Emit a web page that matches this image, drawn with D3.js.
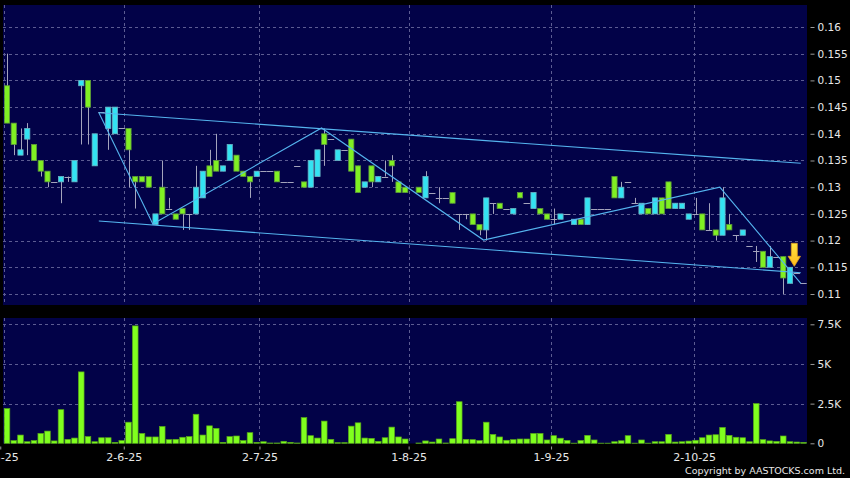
<!DOCTYPE html>
<html>
<head>
<meta charset="utf-8">
<script src="https://cdn.jsdelivr.net/npm/d3@7"></script>
<style>
  html, body { margin: 0; padding: 0; background: #000; }
  svg { display: block; }
  text { font-family: "DejaVu Sans", sans-serif; }
</style>
</head>
<body>
<div id="chart"></div>
<script>
// daily prices, index 0 = first trading day shown (null = no trade)
const openP = [
  .149,.142,.136,.139,.138,.135,.133,.131,.131,.132,
  .131,.149,.150,.134,.144,.141,.140,.141,.141,.132,
  .132,.132,.123,.130,.126,.125,.126,.125,.125,.128,
  .134,.135,.133,.135,.136,.133,.132,.132,.133,.133,
  .133,.131,.131,.134,.131,.130,.132,.140,.139,.135,
  .137,.139,.134,.130,.134,.131,.132,.135,.131,.130,
  null,.130,.128,.129,.128,.128,.129,.125,.125,.125,
  .123,.122,.127,.127,.126,.125,.129,.127,.126,.126,
  .125,.124,.124,.125,.123,.124,.123,.126,.126,.126,
  .132,.128,.131,.127,.125,.126,.125,.128,.131,.126,
  .126,.124,.125,.125,.122,.122,.121,.123,.121,.121,
  .119,.118,.118,.115,.117,.117,.112,.114,.112
];
const closeP = [
  .142,.138,.137,.141,.135,.133,.131,.131,.132,.132,
  .135,.150,.145,.140,.144,.145,.145,.141,.137,.131,
  .131,.130,.125,.125,.126,.124,.125,.125,.130,.133,
  .132,.133,.134,.138,.133,.132,.131,.133,.133,.133,
  .131,.131,.131,.134,.130,.135,.137,.138,.139,.137,
  .137,.133,.129,.131,.131,.132,.132,.134,.129,.129,
  null,.129,.132,.129,.128,.128,.127,.125,.125,.123,
  .122,.128,.127,.126,.126,.126,.128,.127,.129,.125,
  .124,.124,.125,.125,.124,.123,.128,.126,.126,.126,
  .128,.130,.131,.127,.127,.125,.128,.125,.126,.127,
  .127,.125,.125,.122,.122,.121,.128,.122,.121,.122,
  .119,.118,.115,.117,.117,.113,.115,.114,.112
];
const highP = [
  .155,.142,.141,.142,.138,.135,.133,.131,.132,.132,
  .135,.150,.150,.140,.144,.145,.145,.141,.141,.132,
  .132,.132,.125,.135,.128,.125,.126,.125,.134,.133,
  .137,.140,.134,.138,.136,.133,.132,.133,.133,.133,
  .133,.131,.131,.134,.131,.135,.137,.141,.139,.137,
  .137,.139,.134,.131,.134,.132,.135,.136,.131,.130,
  null,.130,.133,.129,.130,.128,.129,.125,.125,.125,
  .123,.128,.127,.127,.126,.126,.129,.127,.129,.126,
  .125,.126,.125,.125,.124,.124,.128,.126,.126,.126,
  .132,.131,.131,.128,.127,.126,.128,.128,.131,.127,
  .127,.125,.128,.125,.127,.122,.130,.125,.121,.122,
  .119,.119,.118,.119,.117,.117,.115,.114,.112
];
const lowP = [
  .142,.136,.136,.136,.135,.132,.130,.131,.127,.131,
  .131,.138,.138,.134,.144,.137,.140,.141,.130,.126,
  .131,.130,.123,.125,.126,.124,.122,.122,.125,.128,
  .132,.133,.133,.135,.133,.132,.128,.132,.133,.133,
  .131,.131,.131,.134,.130,.130,.132,.134,.139,.135,
  .137,.133,.129,.130,.130,.131,.132,.131,.129,.129,
  null,.129,.128,.129,.127,.128,.127,.122,.124,.123,
  .121,.120,.125,.126,.126,.125,.128,.127,.126,.125,
  .124,.123,.124,.125,.123,.123,.123,.126,.126,.126,
  .128,.128,.131,.127,.125,.125,.125,.125,.126,.126,
  .126,.124,.125,.122,.122,.120,.121,.122,.120,.121,
  .119,.116,.115,.115,.117,.110,.112,.114,.112
];
const volume = [
  2190,170,520,100,170,620,770,150,2120,250,
  330,4500,420,100,350,350,60,170,1330,7400,
  620,400,400,1060,230,250,380,420,1830,520,
  1100,940,60,420,460,170,670,60,100,20,
  20,125,60,20,1620,480,330,1400,250,40,
  40,1080,1290,330,310,125,350,1020,400,270,
  0,20,150,80,270,20,290,2620,250,230,
  170,1330,560,400,190,230,270,270,620,620,
  210,480,320,180,10,180,500,210,10,10,
  100,160,480,10,210,10,100,100,560,80,
  100,140,190,350,520,540,1000,500,380,350,
  100,2500,230,150,120,460,100,80,60
];

// x-axis labels and where they sit (in day index units)
const dateLabels = ["2-5-25", "2-6-25", "2-7-25", "1-8-25", "1-9-25", "2-10-25"];
const dateTickIdx = [-1, 17.3, 37.4, 59.5, 80.6, 101.8];
const priceTicks = [0.11, 0.115, 0.12, 0.125, 0.13, 0.135, 0.14, 0.145, 0.15, 0.155, 0.16];
const volTicks = [0, 2500, 5000, 7500];

// trend lines drawn on the chart: [day index, price]
const upperChannel = [[14, 0.14395], [118, 0.13448]];
const lowerChannel = [[14, 0.12367], [118, 0.11399]];
const zigzag = [[14, 0.1440], [22, 0.1231], [47, 0.1411], [71, 0.1201], [106, 0.1300], [118, 0.1120]];
const lineShift = -0.4; // lines sit a little left of the candle centres

const signalIdx = 116;

const W = 850, H = 478;
const plotL = 3, plotR = 807;
const priceTop = 5, priceBot = 305;
const volTop = 318, volBot = 443.5;

const C = {
  bg: "#000000",
  panel: "#020248",
  grid: "#5c5c92",
  up: "#33e3f2",
  upEdge: "#6ab3c4",
  down: "#80f023",
  downEdge: "#5c9a3a",
  wick: "#a4a4bc",
  trend: "#55b4ee",
  text: "#e8e8e8"
};

const days = d3.range(openP.length).map(i => ({
  i, o: openP[i], c: closeP[i], h: highP[i], l: lowP[i], v: volume[i]
}));
const traded = days.filter(d => d.o != null);

const x = d3.scaleLinear().domain([0, 118]).range([7, 803.5]);
const y = d3.scaleLinear().domain([0.11, 0.16]).range([294, 27]);
const yv = d3.scaleLinear().domain([0, 7500]).range([443.3, 324.3]);

const svg = d3.select("#chart").append("svg")
  .attr("width", W)
  .attr("height", H);

svg.append("rect").attr("width", W).attr("height", H).attr("fill", C.bg);

const defs = svg.append("defs");
defs.append("clipPath").attr("id", "clipPrice")
  .append("rect").attr("x", plotL).attr("y", priceTop)
  .attr("width", plotR - plotL).attr("height", priceBot - priceTop);

const arrowGrad = defs.append("linearGradient").attr("id", "arrowGrad")
  .attr("x1", 0).attr("y1", 0).attr("x2", 0).attr("y2", 1);
arrowGrad.append("stop").attr("offset", "0%").attr("stop-color", "#ffe640");
arrowGrad.append("stop").attr("offset", "100%").attr("stop-color", "#ffb81c");

// panels
svg.append("rect")
  .attr("x", plotL).attr("y", priceTop)
  .attr("width", plotR - plotL).attr("height", priceBot - priceTop)
  .attr("fill", C.panel);
svg.append("rect")
  .attr("x", plotL).attr("y", volTop)
  .attr("width", plotR - plotL).attr("height", volBot - volTop)
  .attr("fill", C.panel);

// grid
const grid = svg.append("g")
  .attr("stroke", C.grid)
  .attr("stroke-width", 1)
  .attr("stroke-dasharray", "3,3")
  .attr("shape-rendering", "crispEdges");

grid.selectAll("line.hp").data(priceTicks).join("line")
  .attr("class", "hp")
  .attr("x1", plotL).attr("x2", plotR)
  .attr("y1", d => Math.round(y(d)) + 0.5).attr("y2", d => Math.round(y(d)) + 0.5);
grid.selectAll("line.hv").data(volTicks.filter(d => d > 0)).join("line")
  .attr("class", "hv")
  .attr("x1", plotL).attr("x2", plotR)
  .attr("y1", d => Math.round(yv(d)) + 0.5).attr("y2", d => Math.round(yv(d)) + 0.5);
grid.selectAll("line.vp").data(dateTickIdx).join("line")
  .attr("class", "vp")
  .attr("x1", d => Math.max(Math.round(x(d)), plotL + 1) + 0.5)
  .attr("x2", d => Math.max(Math.round(x(d)), plotL + 1) + 0.5)
  .attr("y1", priceTop).attr("y2", priceBot);
grid.selectAll("line.vv").data(dateTickIdx).join("line")
  .attr("class", "vv")
  .attr("x1", d => Math.max(Math.round(x(d)), plotL + 1) + 0.5)
  .attr("x2", d => Math.max(Math.round(x(d)), plotL + 1) + 0.5)
  .attr("y1", volTop).attr("y2", volBot);

// candles
const candles = svg.append("g").attr("clip-path", "url(#clipPrice)");

candles.selectAll("line.wick").data(traded.filter(d => d.h > d.l)).join("line")
  .attr("class", "wick")
  .attr("x1", d => Math.round(x(d.i)) + 0.5)
  .attr("x2", d => Math.round(x(d.i)) + 0.5)
  .attr("y1", d => y(d.h))
  .attr("y2", d => y(d.l))
  .attr("stroke", C.wick)
  .attr("stroke-width", 1);

candles.selectAll("line.doji").data(traded.filter(d => d.o === d.c)).join("line")
  .attr("class", "doji")
  .attr("x1", d => x(d.i) - 3.2)
  .attr("x2", d => x(d.i) + 3.2)
  .attr("y1", d => Math.round(y(d.o)) + 0.5)
  .attr("y2", d => Math.round(y(d.o)) + 0.5)
  .attr("stroke", C.wick)
  .attr("stroke-width", 1);

candles.selectAll("rect.body").data(traded.filter(d => d.o !== d.c)).join("rect")
  .attr("class", "body")
  .attr("x", d => x(d.i) - 2.6)
  .attr("width", 5.2)
  .attr("y", d => y(Math.max(d.o, d.c)))
  .attr("height", d => Math.abs(y(d.o) - y(d.c)))
  .attr("fill", d => d.c > d.o ? C.up : C.down)
  .attr("stroke", d => d.c > d.o ? C.upEdge : C.downEdge)
  .attr("stroke-width", 0.8);

// trend lines
const trendLine = d3.line()
  .x(d => x(d[0] + lineShift))
  .y(d => y(d[1]));

candles.selectAll("path.trend").data([upperChannel, lowerChannel, zigzag]).join("path")
  .attr("class", "trend")
  .attr("d", trendLine)
  .attr("fill", "none")
  .attr("stroke", C.trend)
  .attr("stroke-width", 1.1);

// signal arrow above the last marked candle
const ax = x(signalIdx) + 4.3;
const ay = y(highP[signalIdx]) - 1;
svg.append("path")
  .attr("d", `M${ax},${ay} L${ax - 6.2},${ay - 10} L${ax - 3},${ay - 10} L${ax - 3},${ay - 23} ` +
             `L${ax + 3},${ay - 23} L${ax + 3},${ay - 10} L${ax + 6.2},${ay - 10} Z`)
  .attr("fill", "url(#arrowGrad)")
  .attr("stroke", "#e0a020")
  .attr("stroke-width", 0.8);

// volume bars
svg.append("g").selectAll("rect").data(days.filter(d => d.v > 0)).join("rect")
  .attr("x", d => x(d.i) - 2.8)
  .attr("width", 5.6)
  .attr("y", d => yv(d.v))
  .attr("height", d => yv(0) - yv(d.v))
  .attr("fill", "#80ff1e")
  .attr("stroke", "#58a818")
  .attr("stroke-width", 0.7);

// right axes
const priceAxis = d3.axisRight(y)
  .tickValues(priceTicks)
  .tickSize(4)
  .tickPadding(3)
  .tickFormat(d => String(+d.toFixed(3)));
const volAxis = d3.axisRight(yv)
  .tickValues(volTicks)
  .tickSize(4)
  .tickPadding(3)
  .tickFormat(d => d === 0 ? "0" : (d / 1000) + "K");

[[priceAxis, "pa"], [volAxis, "va"]].forEach(([ax, cls]) => {
  const g = svg.append("g")
    .attr("class", cls)
    .attr("transform", `translate(${plotR + 3.5},0)`)
    .call(ax);
  g.select(".domain").remove();
  g.selectAll(".tick line").attr("stroke", "#9a9a9a");
  g.selectAll(".tick text")
    .attr("fill", C.text)
    .attr("font-size", "10.5px")
    .attr("font-family", "DejaVu Sans, sans-serif");
});

// date axis
const dateAxis = d3.axisBottom(x)
  .tickValues(dateTickIdx)
  .tickSize(3)
  .tickPadding(4)
  .tickFormat((d, i) => dateLabels[i]);
const gx = svg.append("g")
  .attr("transform", `translate(0,${volBot + 3})`)
  .call(dateAxis);
gx.select(".domain").remove();
gx.selectAll(".tick line").attr("stroke", "#9a9a9a");
gx.selectAll(".tick text")
  .attr("fill", C.text)
  .attr("font-size", "11px")
  .attr("font-family", "DejaVu Sans, sans-serif");

svg.append("text")
  .attr("x", 845)
  .attr("y", 474)
  .attr("text-anchor", "end")
  .attr("fill", C.text)
  .attr("font-size", "9.5px")
  .attr("font-family", "DejaVu Sans, sans-serif")
  .text("Copyright by AASTOCKS.com Ltd.");
</script>
</body>
</html>
